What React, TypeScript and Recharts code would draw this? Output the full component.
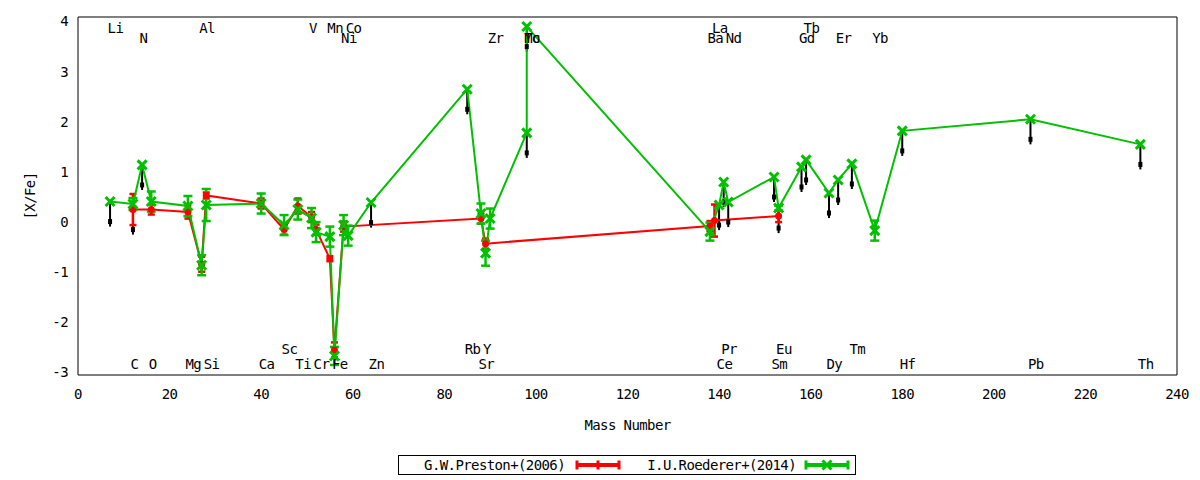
import React from "react";
import {
  ComposedChart,
  ErrorBar,
  Legend,
  Line,
  Scatter,
  XAxis,
  YAxis,
} from "recharts";

const FONT = "'DejaVu Sans Mono', monospace";
const RED = "#ff0000";
const GREEN = "#00c000";

const xTicks = [0, 20, 40, 60, 80, 100, 120, 140, 160, 180, 200, 220, 240];
const yTicks = [-3, -2, -1, 0, 1, 2, 3, 4];

// I.U.Roederer+(2014)
const roedererEl = ["Li", "C", "N", "O", "Mg", "Al", "Si", "Ca", "Sc", "Ti", "V", "Cr", "Mn", "Fe", "Ni", "Co", "Zn", "Rb", "Sr", "Y", "Zr", "Mo", "Tc", "Ba", "Ce", "Pr", "Nd", "Sm", "Eu", "Gd", "Tb", "Dy", "Er", "Tm", "Yb", "Hf", "Pb", "Th"];
const roedererMass = [7, 12, 14, 16, 24, 27, 28, 40, 45, 48, 51, 52, 55, 56, 58, 59, 64, 85, 88, 89, 90, 98, 98, 138, 140, 141, 142, 152, 153, 158, 159, 164, 166, 169, 174, 180, 208, 232];
const roedererVal = [0.41, 0.36, 1.14, 0.41, 0.32, -0.86, 0.34, 0.37, -0.06, 0.25, 0.08, -0.2, -0.29, -2.67, -0.06, -0.27, 0.39, 2.65, 0.17, -0.62, 0.07, 1.78, 3.9, -0.19, 0.34, 0.8, 0.4, 0.9, 0.28, 1.1, 1.24, 0.58, 0.84, 1.16, -0.17, 1.82, 2.05, 1.55];
const roedererErr = [0, 0.12, 0, 0.2, 0.2, 0.2, 0.32, 0.2, 0.2, 0.2, 0.2, 0.2, 0.2, 0.18, 0.2, 0.2, 0, 0, 0.2, 0.25, 0.2, 0, 0, 0.18, 0, 0, 0, 0, 0.05, 0, 0, 0, 0, 0, 0.2, 0, 0, 0];

// G.W.Preston+(2006)
const prestonEl = ["C", "O", "Mg", "Al", "Si", "Ca", "Sc", "Ti", "V", "Cr", "Mn", "Fe", "Ni", "Sr", "Y", "Ba", "La", "Eu"];
const prestonMass = [12, 16, 24, 27, 28, 40, 45, 48, 51, 52, 55, 56, 58, 88, 89, 138, 139, 153];
const prestonVal = [0.25, 0.25, 0.2, -0.84, 0.53, 0.37, -0.15, 0.32, 0.1, -0.15, -0.73, -2.55, -0.09, 0.07, -0.43, -0.08, 0.03, 0.12];
const prestonErr = [0.31, 0.1, 0.13, 0.15, 0.06, 0.1, 0.1, 0.15, 0.1, 0.1, 0.05, 0.15, 0.1, 0.1, 0.1, 0.1, 0.32, 0.12];

// upper limits (black arrows)
const limitMass = [7, 12, 14, 64, 85, 98, 98, 140, 141, 142, 152, 153, 158, 159, 164, 166, 169, 180, 208, 232];
const limitVal = [0.41, 0.25, 1.14, 0.39, 2.65, 1.78, 3.9, 0.34, 0.8, 0.4, 0.9, 0.28, 1.1, 1.24, 0.58, 0.84, 1.16, 1.82, 2.05, 1.55];

// element names along top and bottom of the frame
const labelEl = ["Li", "N", "Al", "V", "Mn", "Co", "Ni", "Zr", "Mo", "Tc", "La", "Ba", "Nd", "Tb", "Gd", "Er", "Yb", "C", "O", "Mg", "Si", "Ca", "Sc", "Ti", "Cr", "Fe", "Zn", "Rb", "Y", "Sr", "Pr", "Ce", "Eu", "Sm", "Dy", "Tm", "Hf", "Pb", "Th"];
const labelMass = [7, 14, 27, 51, 55, 59, 58, 90, 98, 98, 139, 138, 142, 159, 158, 166, 174, 12, 16, 24, 28, 40, 45, 48, 52, 56, 64, 85, 89, 88, 141, 140, 153, 152, 164, 169, 180, 208, 232];
const labelRow = [0, 1, 0, 0, 0, 0, 1, 1, 1, 1, 0, 1, 1, 0, 1, 1, 1, 3, 3, 3, 3, 3, 2, 3, 3, 3, 3, 2, 2, 3, 2, 3, 2, 3, 3, 2, 3, 3, 3];
const labelRowY = [3.88, 3.68, -2.54, -2.83];

const roederer = roedererEl.map((el, i) => ({
  el,
  x: roedererMass[i],
  y: roedererVal[i],
  err: roedererErr[i],
}));
const preston = prestonEl.map((el, i) => ({
  el,
  x: prestonMass[i],
  y: prestonVal[i],
  err: prestonErr[i],
}));
// arrow head sits 0.4 below the value, shaft runs from the value to 0.5 below
const limits = limitMass.map((m, i) => ({
  x: m,
  y: limitVal[i] - 0.4,
  lim: [0.1, 0.4],
}));
const labels = labelEl.map((el, i) => ({
  el,
  x: labelMass[i],
  y: labelRowY[labelRow[i]],
}));

const textStyle = { fontFamily: FONT, fontSize: 14, letterSpacing: "-0.6px" };

const GreenCross = ({ cx, cy }: any) => {
  if (cx == null || cy == null) return null;
  const s = 4.5;
  return (
    <path
      d={`M${cx - s},${cy - s}L${cx + s},${cy + s}M${cx - s},${cy + s}L${cx + s},${cy - s}`}
      stroke={GREEN}
      strokeWidth={3}
      fill="none"
    />
  );
};

const RedDot = ({ cx, cy }: any) => {
  if (cx == null || cy == null) return null;
  return <circle cx={cx} cy={cy} r={3.5} fill={RED} />;
};

const ArrowHead = ({ cx, cy }: any) => {
  if (cx == null || cy == null) return null;
  return <rect x={cx - 2} y={cy - 2.5} width={4} height={5} fill="#000" />;
};

const ElementLabel = ({ cx, cy, payload }: any) => (
  <text x={cx - 2.5} y={cy} dy="0.36em" textAnchor="start" fill="#000" style={textStyle}>
    {payload.el}
  </text>
);

const Sample = ({ color, cross }: { color: string; cross?: boolean }) => (
  <svg width={46} height={20} style={{ display: "block" }}>
    <line x1={1} y1={10} x2={45} y2={10} stroke={color} strokeWidth={4} />
    <line x1={2} y1={5.5} x2={2} y2={14.5} stroke={color} strokeWidth={3} />
    <line x1={44} y1={5.5} x2={44} y2={14.5} stroke={color} strokeWidth={3} />
    {cross ? (
      <path d="M18.5,5.5L27.5,14.5M18.5,14.5L27.5,5.5" stroke={color} strokeWidth={3} />
    ) : (
      <line x1={23} y1={5.5} x2={23} y2={14.5} stroke={color} strokeWidth={3} />
    )}
  </svg>
);

const LegendBox = () => (
  <div
    style={{
      position: "relative",
      width: 458,
      height: 20,
      boxSizing: "border-box",
      border: "1px solid #000",
      background: "#fff",
      ...textStyle,
      lineHeight: "18px",
      color: "#000",
    }}
  >
    <span style={{ position: "absolute", right: 458 - 168, top: 0, whiteSpace: "nowrap" }}>
      G.W.Preston+(2006)
    </span>
    <div style={{ position: "absolute", left: 176, top: -1 }}>
      <Sample color={RED} />
    </div>
    <span style={{ position: "absolute", right: 458 - 399, top: 0, whiteSpace: "nowrap" }}>
      I.U.Roederer+(2014)
    </span>
    <div style={{ position: "absolute", left: 405, top: -1 }}>
      <Sample color={GREEN} cross />
    </div>
  </div>
);

export default function App() {
  return (
    <ComposedChart
      width={1192}
      height={472}
      margin={{ top: 9, right: 23, left: 0, bottom: 45 }}
    >
      <XAxis
        xAxisId="x"
        type="number"
        dataKey="x"
        domain={[0, 240]}
        ticks={xTicks}
        allowDataOverflow
        height={60}
        tickLine={false}
        tickSize={0}
        tickMargin={14}
        axisLine={{ stroke: "#000" }}
        tick={{ fill: "#000", ...textStyle }}
        label={{
          content: ({ viewBox }: any) => (
            <text
              x={viewBox.x + viewBox.width / 2}
              y={viewBox.y + 55}
              textAnchor="middle"
              fill="#000"
              style={textStyle}
            >
              Mass Number
            </text>
          ),
        }}
      />
      <XAxis
        xAxisId="xb"
        type="number"
        dataKey="x"
        domain={[0, 240]}
        ticks={xTicks}
        allowDataOverflow
        mirror
        tick={false}
        tickSize={5}
        tickLine={{ stroke: "#000" }}
        axisLine={false}
      />
      <XAxis
        xAxisId="xt"
        orientation="top"
        type="number"
        dataKey="x"
        domain={[0, 240]}
        ticks={xTicks}
        allowDataOverflow
        mirror
        tick={false}
        tickSize={5}
        tickLine={{ stroke: "#000" }}
        axisLine={{ stroke: "#000" }}
      />
      <YAxis
        yAxisId="y"
        type="number"
        dataKey="y"
        domain={[-3.05, 4.09]}
        ticks={yTicks}
        allowDataOverflow
        width={70}
        tickLine={false}
        tickSize={0}
        tickMargin={10}
        axisLine={{ stroke: "#000" }}
        tick={{ fill: "#000", ...textStyle }}
        label={{
          content: () => (
            <text
              x={22}
              y={188}
              transform="rotate(-90 22 188)"
              textAnchor="middle"
              dy="0.36em"
              fill="#000"
              style={textStyle}
            >
              [X/Fe]
            </text>
          ),
        }}
      />
      <YAxis
        yAxisId="yl"
        type="number"
        dataKey="y"
        domain={[-3.05, 4.09]}
        ticks={yTicks}
        allowDataOverflow
        mirror
        tick={false}
        tickSize={5}
        tickLine={{ stroke: "#000" }}
        axisLine={false}
      />
      <YAxis
        yAxisId="yr"
        orientation="right"
        type="number"
        dataKey="y"
        domain={[-3.05, 4.09]}
        ticks={yTicks}
        allowDataOverflow
        mirror
        tick={false}
        tickSize={5}
        tickLine={{ stroke: "#000" }}
        axisLine={{ stroke: "#000" }}
      />

      <Line
        xAxisId="x"
        yAxisId="y"
        data={limits}
        dataKey="y"
        stroke="none"
        dot={(p: any) => <ArrowHead key={`a-${p.index}`} {...p} />}
        activeDot={false}
        legendType="none"
        isAnimationActive={false}
      >
        <ErrorBar dataKey="lim" direction="y" width={0} stroke="#000" strokeWidth={2} isAnimationActive={false} />
      </Line>

      <Line
        xAxisId="x"
        yAxisId="y"
        data={preston}
        dataKey="y"
        name="G.W.Preston+(2006)"
        stroke={RED}
        strokeWidth={2}
        dot={(p: any) => <RedDot key={`r-${p.index}`} {...p} />}
        activeDot={false}
        isAnimationActive={false}
      >
        <ErrorBar dataKey="err" direction="y" width={3.5} stroke={RED} strokeWidth={2.5} isAnimationActive={false} />
      </Line>

      <Line
        xAxisId="x"
        yAxisId="y"
        data={roederer}
        dataKey="y"
        name="I.U.Roederer+(2014)"
        stroke={GREEN}
        strokeWidth={2}
        dot={(p: any) => <GreenCross key={`g-${p.index}`} {...p} />}
        activeDot={false}
        isAnimationActive={false}
      >
        <ErrorBar dataKey="err" direction="y" width={4.5} stroke={GREEN} strokeWidth={2.5} isAnimationActive={false} />
      </Line>

      <Scatter
        xAxisId="x"
        yAxisId="y"
        data={labels}
        dataKey="y"
        shape={(p: any) => <ElementLabel {...p} />}
        legendType="none"
        isAnimationActive={false}
      />

      <Legend
        layout="horizontal"
        verticalAlign="middle"
        align="center"
        wrapperStyle={{ left: 390, top: 447, width: 458 }}
        content={() => <LegendBox />}
      />
    </ComposedChart>
  );
}
